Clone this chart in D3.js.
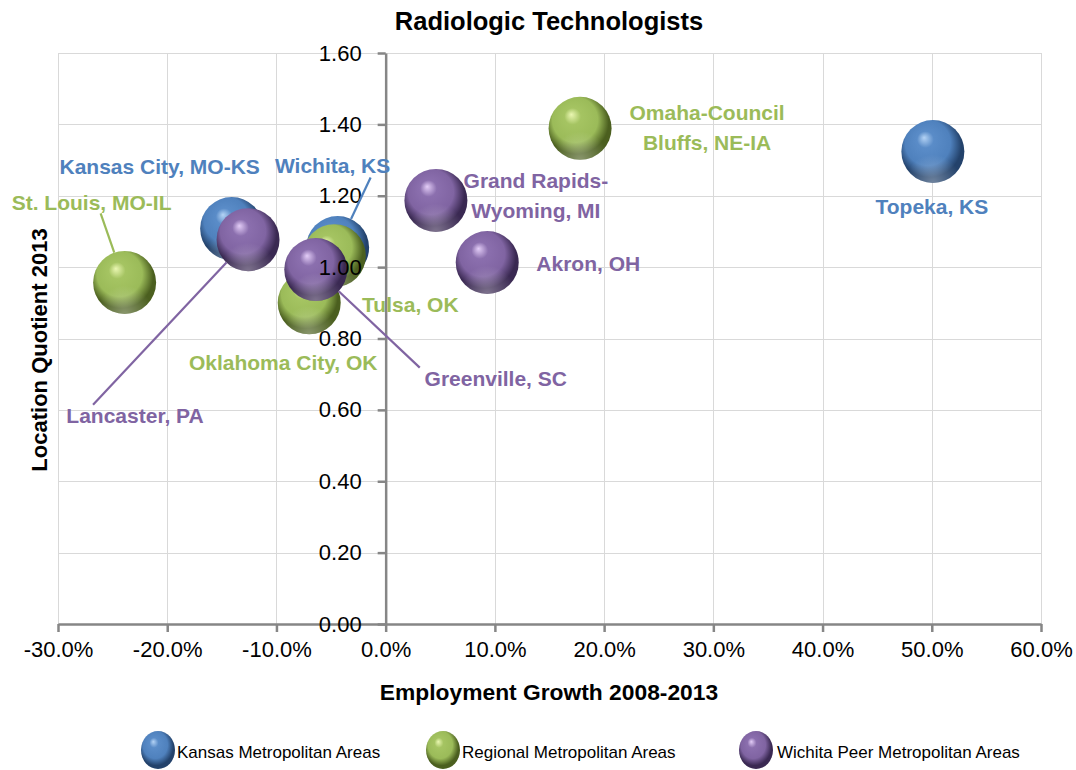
<!DOCTYPE html>
<html>
<head>
<meta charset="utf-8">
<script src="https://cdn.jsdelivr.net/npm/d3@7/dist/d3.min.js"></script>
<style>
  html, body { margin: 0; padding: 0; background: #fff; }
  svg { display: block; font-family: "Liberation Sans", Arial, sans-serif; }
</style>
</head>
<body>
<svg id="chart" width="1076" height="770"></svg>
<script>
// ---------------- DATA ----------------
const seriesNames = ["Kansas Metropolitan Areas", "Regional Metropolitan Areas", "Wichita Peer Metropolitan Areas"];

const kansasAreas  = ["Topeka, KS", "Kansas City, MO-KS", "Wichita, KS"];
const kansasGrowth = [0.501, -0.141, -0.044];
const kansasLQ     = [1.324, 1.108, 1.055];

const regionalAreas  = ["Omaha-Council Bluffs, NE-IA", "St. Louis, MO-IL", "Tulsa, OK", "Oklahoma City, OK"];
const regionalGrowth = [0.178, -0.239, -0.047, -0.070];
const regionalLQ     = [1.389, 0.957, 1.032, 0.900];

const peerAreas  = ["Grand Rapids-Wyoming, MI", "Akron, OH", "Lancaster, PA", "Greenville, SC"];
const peerGrowth = [0.046, 0.093, -0.126, -0.064];
const peerLQ     = [1.187, 1.013, 1.077, 0.993];

const xTickValues = [-0.3, -0.2, -0.1, 0.0, 0.1, 0.2, 0.3, 0.4, 0.5, 0.6];
const yTickValues = [0.0, 0.2, 0.4, 0.6, 0.8, 1.0, 1.2, 1.4, 1.6];

const chartTitle = "Radiologic Technologists";
const xTitle = "Employment Growth 2008-2013";
const yTitle = "Location Quotient 2013";

// ---------------- LAYOUT / STYLE ----------------
const colors = [
  { base: "#4f81bd", hi: "#b4d3f5", mid: "#5a8cc8", dark: "#23426b" },
  { base: "#9bbb59", hi: "#eaf7b2", mid: "#a5c462", dark: "#4b5f1f" },
  { base: "#8064a2", hi: "#e3cdf7", mid: "#8b6fae", dark: "#3a2952" }
];
const bubbleR = 31.5;

// label layout: [lines], dx,dy (text center / first baseline relative to bubble center), leader start offset
const labelLayout = {
  "Topeka, KS":                 { lines: ["Topeka, KS"], dx: -1, dy: 63 },
  "Kansas City, MO-KS":         { lines: ["Kansas City, MO-KS"], dx: -72, dy: -55 },
  "Wichita, KS":                { lines: ["Wichita, KS"], dx: -5, dy: -74, lx: 33, ly: -70 },
  "Omaha-Council Bluffs, NE-IA":{ lines: ["Omaha-Council", "Bluffs, NE-IA"], dx: 127, dy: -8 },
  "St. Louis, MO-IL":           { lines: ["St. Louis, MO-IL"], dx: -33, dy: -72, lx: -24, ly: -69 },
  "Tulsa, OK":                  { lines: ["Tulsa, OK"], dx: 76, dy: 56 },
  "Oklahoma City, OK":          { lines: ["Oklahoma City, OK"], dx: -26, dy: 67 },
  "Grand Rapids-Wyoming, MI":   { lines: ["Grand Rapids-", "Wyoming, MI"], dx: 100, dy: -12 },
  "Akron, OH":                  { lines: ["Akron, OH"], dx: 101, dy: 9 },
  "Lancaster, PA":              { lines: ["Lancaster, PA"], dx: -113, dy: 183, lx: -155, ly: 165 },
  "Greenville, SC":             { lines: ["Greenville, SC"], dx: 180, dy: 116, lx: 104, ly: 98 }
};

const plot = { left: 58, right: 1041, top: 53, bottom: 624 };

// ---------------- BUILD ----------------
const series = [
  { name: seriesNames[0], areas: kansasAreas, xs: kansasGrowth, ys: kansasLQ },
  { name: seriesNames[1], areas: regionalAreas, xs: regionalGrowth, ys: regionalLQ },
  { name: seriesNames[2], areas: peerAreas, xs: peerGrowth, ys: peerLQ }
].map((s, si) => ({
  name: s.name, si,
  points: s.areas.map((a, i) => ({ area: a, x: s.xs[i], y: s.ys[i], si }))
}));

const svg = d3.select("#chart");
const defs = svg.append("defs");

colors.forEach((c, i) => {
  const g = defs.append("radialGradient")
    .attr("id", "sphere" + i)
    .attr("cx", "0.46").attr("cy", "0.42").attr("r", "0.6")
    .attr("fx", "0.36").attr("fy", "0.28");
  g.append("stop").attr("offset", "0").attr("stop-color", c.hi);
  g.append("stop").attr("offset", "0.22").attr("stop-color", c.mid);
  g.append("stop").attr("offset", "0.6").attr("stop-color", c.base);
  g.append("stop").attr("offset", "0.85").attr("stop-color", c.dark);
  g.append("stop").attr("offset", "1").attr("stop-color", c.dark);
});
const rim = defs.append("radialGradient")
  .attr("id", "rimlight").attr("cx", "0.5").attr("cy", "1.0").attr("r", "0.45");
rim.append("stop").attr("offset", "0").attr("stop-color", "#ffffff").attr("stop-opacity", 0.35);
rim.append("stop").attr("offset", "1").attr("stop-color", "#ffffff").attr("stop-opacity", 0);

const x = d3.scaleLinear().domain([-0.3, 0.6]).range([plot.left, plot.right]);
const y = d3.scaleLinear().domain([0, 1.6]).range([plot.bottom, plot.top]);

// gridlines
const grid = svg.append("g").attr("stroke", "#d9d9d9").attr("stroke-width", 1);
grid.selectAll("line.v").data(xTickValues).join("line")
  .attr("x1", d => Math.round(x(d)) + 0.5).attr("x2", d => Math.round(x(d)) + 0.5)
  .attr("y1", plot.top).attr("y2", plot.bottom);
grid.selectAll("line.h").data(yTickValues).join("line")
  .attr("y1", d => Math.round(y(d)) + 0.5).attr("y2", d => Math.round(y(d)) + 0.5)
  .attr("x1", plot.left).attr("x2", plot.right);

// bubbles
const allPoints = series.flatMap(s => s.points);
const bub = svg.append("g");
series.forEach(s => {
  const g = bub.append("g");
  g.selectAll("circle.b").data(s.points).join("circle")
    .attr("class", "b")
    .attr("cx", d => x(d.x)).attr("cy", d => y(d.y)).attr("r", bubbleR)
    .attr("fill", `url(#sphere${s.si})`);
  g.selectAll("circle.r").data(s.points).join("circle")
    .attr("class", "r")
    .attr("cx", d => x(d.x)).attr("cy", d => y(d.y)).attr("r", bubbleR)
    .attr("fill", "url(#rimlight)");
});

// axes
const axisColor = "#868686";
const xAxis = d3.axisBottom(x).tickValues(xTickValues)
  .tickFormat(d3.format(".1%")).tickSize(8).tickSizeOuter(0);
const xg = svg.append("g").attr("transform", `translate(0,${y(0)})`).call(xAxis);
xg.select(".domain").attr("stroke", axisColor).attr("stroke-width", 2.5);
xg.selectAll(".tick line").attr("stroke", axisColor).attr("stroke-width", 2.5);
xg.selectAll(".tick text").attr("font-size", 22).attr("fill", "#000")
  .attr("font-family", '"Liberation Sans", Arial, sans-serif').attr("dy", "1.0em")
  .text(d => d3.format(".1%")(d).replace("−", "-"));

const yAxis = d3.axisLeft(y).tickValues(yTickValues)
  .tickFormat(d3.format(".2f")).tickSize(8).tickSizeOuter(0);
const yg = svg.append("g").attr("transform", `translate(${x(0)},0)`).call(yAxis);
yg.select(".domain").attr("stroke", axisColor).attr("stroke-width", 2.5);
yg.selectAll(".tick line").attr("stroke", axisColor).attr("stroke-width", 2.5);
yg.selectAll(".tick text").attr("font-size", 22).attr("fill", "#000")
  .attr("font-family", '"Liberation Sans", Arial, sans-serif').attr("x", -24);

// leader lines and labels
const lab = svg.append("g").attr("font-weight", "bold").attr("font-size", 21).attr("text-anchor", "middle");
allPoints.forEach(p => {
  const L = labelLayout[p.area];
  const cx = x(p.x), cy = y(p.y);
  const col = colors[p.si].base;
  if (L.lx !== undefined) {
    const sx = cx + L.lx, sy = cy + L.ly;
    const vx = sx - cx, vy = sy - cy, len = Math.hypot(vx, vy);
    const ex = cx + vx / len * bubbleR, ey = cy + vy / len * bubbleR;
    lab.append("line").attr("x1", sx).attr("y1", sy).attr("x2", ex).attr("y2", ey)
      .attr("stroke", col).attr("stroke-width", 2.2);
  }
  const t = lab.append("text").attr("fill", col);
  L.lines.forEach((ln, i) => {
    t.append("tspan").attr("x", cx + L.dx).attr("y", cy + L.dy + i * 30).text(ln);
  });
});

// titles
svg.append("text").attr("x", 549).attr("y", 30).attr("text-anchor", "middle")
  .attr("font-weight", "bold").attr("font-size", 25.5).text(chartTitle);
svg.append("text").attr("x", 549).attr("y", 700).attr("text-anchor", "middle")
  .attr("font-weight", "bold").attr("font-size", 22.8).text(xTitle);
svg.append("text").attr("transform", "translate(47,350) rotate(-90)").attr("text-anchor", "middle")
  .attr("font-weight", "bold").attr("font-size", 22).text(yTitle);

// legend
const legendPos = [{ cx: 158, tx: 177 }, { cx: 443, tx: 462 }, { cx: 756, tx: 777 }];
const leg = svg.append("g");
series.forEach((s, i) => {
  leg.append("ellipse").attr("cx", legendPos[i].cx).attr("cy", 750).attr("rx", 17).attr("ry", 19)
    .attr("fill", `url(#sphere${i})`);
  leg.append("text").attr("x", legendPos[i].tx).attr("y", 758).attr("font-size", 17)
    .attr("fill", "#000").text(s.name);
});
</script>
</body>
</html>
